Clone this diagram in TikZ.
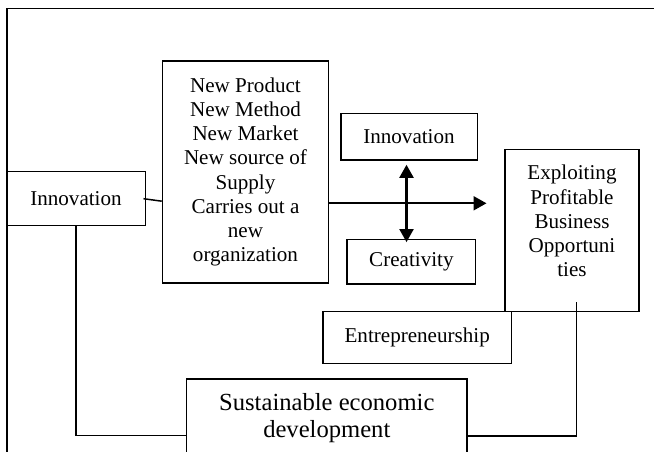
\documentclass[tikz,border=0pt]{standalone}
\usepackage{fontspec}
\setmainfont{Liberation Serif}
\usetikzlibrary{arrows.meta,positioning,calc}

\begin{document}
\begin{tikzpicture}[>={Triangle[length=0.26cm,width=0.28cm]}, line width=0.85pt, font=\fontsize{12}{13.8}\selectfont]
   \useasboundingbox (0,0) rectangle (13.08,9.04);
   % outer frame, runs off the page at right and bottom
   \draw [line width=1pt] (0.14,8.87) rectangle (13.4,-0.4);
   \begin{scope}[every node/.style={rectangle,draw=black,align=center,inner sep=0pt}]
    \node (inn) [minimum width=2.77cm, minimum height=1.08cm] at (1.52,5.066) {Innovation};
    \node (new) [minimum width=3.32cm, minimum height=4.44cm] at (4.91,5.6)
      {New Product\\New Method\\New Market\\New source of\\Supply\\Carries out a\\new\\organization};
    \node (inn2) [minimum width=2.73cm, minimum height=0.934cm] at (8.18,6.306) {Innovation};
    \node (cre) [minimum width=2.57cm, minimum height=0.894cm] at (8.228,3.806) {Creativity};
    \node (exp) [minimum width=2.686cm, minimum height=3.248cm] at (11.44,4.43)
      {Exploiting\\Profitable\\Business\\Opportuni\\ties\\[-3pt]\mbox{}};
    \node (ent) [minimum width=3.77cm, minimum height=1.032cm] at (8.344,2.29) {Entrepreneurship};
    \node (sus) [minimum width=5.614cm, minimum height=1.57cm, font=\fontsize{14}{15.2}\selectfont] at (6.536,0.674)
      {Sustainable economic\\development};
   \end{scope}
   \coordinate (tip) at (9.73,4.974);
   \begin{scope}[line width=1.2pt]
    \draw [->] (new.east |- tip) -- (tip);
    \draw [<->] ([xshift=-0.05cm,yshift=-0.08cm]inn2.south) -- ([xshift=-0.05cm,yshift=-0.07cm]inn2.south |- cre.north);
   \end{scope}
   \draw ([xshift=-0.05cm]inn.east) -- ([yshift=-0.05cm]inn.east -| new.west);
   \draw (inn.south) |- ([yshift=-0.34cm]sus.west);
   \draw ([xshift=0.094cm,yshift=0.2cm]exp.south) |- ([yshift=-0.354cm]sus.east);
\end{tikzpicture}
\end{document}
